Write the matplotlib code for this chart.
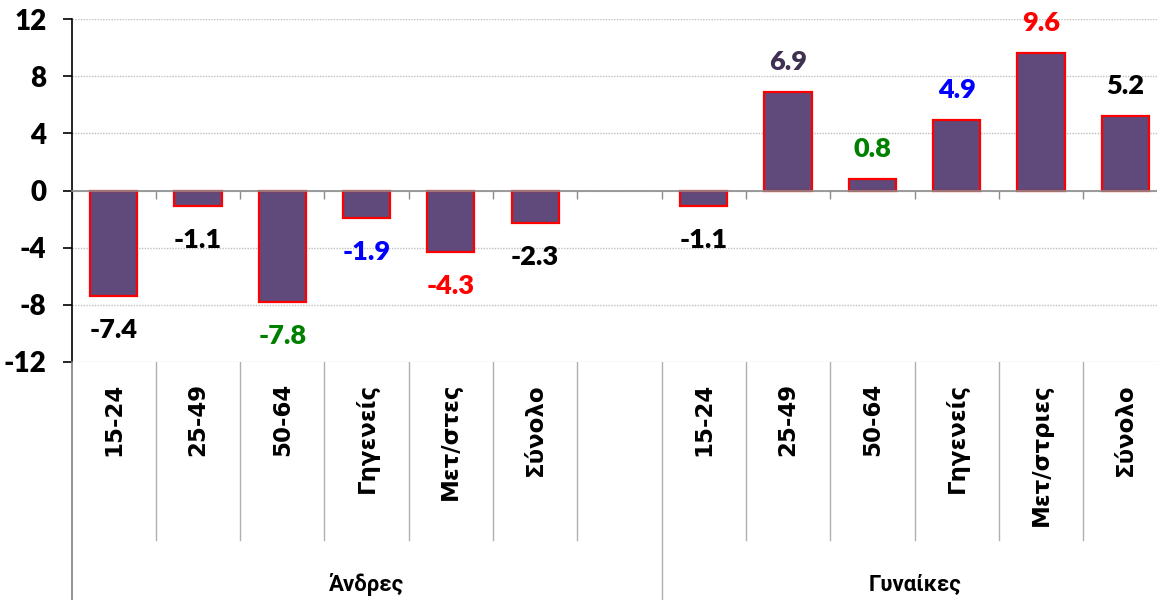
import numpy as np
import matplotlib
matplotlib.use("Agg")
import matplotlib.pyplot as plt
from matplotlib.ticker import FixedLocator

categories = ["15-24", "25-49", "50-64", "Γηγενείς", "Μετ/στες", "Σύνολο", "",
              "15-24", "25-49", "50-64", "Γηγενείς", "Μετ/στριες", "Σύνολο"]
values = [-7.4, -1.1, -7.8, -1.9, -4.3, -2.3, np.nan,
          -1.1, 6.9, 0.8, 4.9, 9.6, 5.2]
label_colors = ["black", "black", "#008000", "#0000FF", "#FF0000", "black", "black",
                "black", "#403152", "#008000", "#0000FF", "#FF0000", "black"]
groups = ["Άνδρες", "Γυναίκες"]
group_spans = [(0, 6), (7, 12)]
yticks = [-12, -8, -4, 0, 4, 8, 12]

narrow = ["Lato", "DejaVu Sans"]
wide = ["DejaVu Sans"]
greek = ["Roboto", "DejaVu Sans"]

W, H = 1157, 600
fig = plt.figure(figsize=(W / 100, H / 100), dpi=100)

x_left, x_right = 71.5, 1167.4
y_top, y_zero_bottom, y_bottom = 19, 362, 600

ax = fig.add_axes([x_left / W, (H - y_zero_bottom) / H,
                   (x_right - x_left) / W, (y_zero_bottom - y_top) / H])
n = len(categories)
x = np.arange(n)
ax.set_xlim(-0.5, n - 0.5)
ax.set_ylim(-12, 12)

ax.bar(x, values, width=0.56, color="#604A7B", edgecolor="#FF0000",
       linewidth=1.6, zorder=3)

for xi, v, c in zip(x, values, label_colors):
    if np.isnan(v):
        continue
    off = 30 if v > 0 else -34
    ax.annotate(f"{v:.1f}", (xi, v), xytext=(0, off), textcoords="offset pixels",
                ha="center", va="center", color=c, fontsize=19.5,
                fontweight="heavy", family=narrow, zorder=4)

# y axis
ax.set_yticks(yticks)
ax.set_yticklabels([str(t) for t in yticks], fontsize=20, fontweight="heavy",
                   family=narrow)
ax.tick_params(axis="y", direction="out", length=6.5, width=1.2, pad=11.5,
               colors="black")
ax.yaxis.grid(True, linestyle=(0, (1, 1)), color="#bfbfbf", linewidth=1)
ax.set_axisbelow(True)

for s in ["top", "right"]:
    ax.spines[s].set_visible(False)
ax.spines["left"].set_color("black")
ax.spines["left"].set_linewidth(1.2)
ax.spines["bottom"].set_position(("data", 0))
ax.spines["bottom"].set_color("#8c8c8c")
ax.spines["bottom"].set_linewidth(1.2)
ax.spines["bottom"].set_zorder(5)
ax.set_xticks([])
ax.xaxis.set_minor_locator(FixedLocator(np.arange(n + 1) - 0.5))
ax.tick_params(axis="x", which="minor", direction="out", length=6, width=1,
               color="#8c8c8c")

# category label area
lax = fig.add_axes([x_left / W, 0, (x_right - x_left) / W, (y_bottom - y_zero_bottom) / H])
lax.set_xlim(-0.5, n - 0.5)
lax.set_ylim(0, 1)
lax.set_xticks([])
lax.set_yticks([])
for s in ["top", "right", "bottom"]:
    lax.spines[s].set_visible(False)
lax.spines["left"].set_color("#808080")
lax.spines["left"].set_linewidth(1.2)
lax.patch.set_alpha(0)

short_bottom = (y_bottom - 540) / (y_bottom - y_zero_bottom)
group_edges = {g[0] - 0.5 for g in group_spans} | {group_spans[0][1] + 0.5, n - 0.5}
for b in np.arange(n + 1) - 0.5:
    if b == -0.5:
        continue
    ymin = 0 if b in group_edges else short_bottom
    lax.axvline(b, ymin=ymin, ymax=1, color="#b0b0b0", linewidth=1)

label_top = (y_bottom - 383) / (y_bottom - y_zero_bottom)
for xi, cat in zip(x, categories):
    if cat:
        lax.text(xi, label_top, cat, rotation=90, ha="center", va="top",
                 fontsize=16.5, fontweight="bold", family=wide)

group_y = (y_bottom - 585) / (y_bottom - y_zero_bottom)
for g, (a, b) in zip(groups, [(-0.5, 6.5), (6.5, n - 0.5)]):
    lax.text((a + b) / 2, group_y, g, ha="center", va="center",
             fontsize=16, fontweight="bold", family=greek)

fig.savefig("out.png", dpi=100)
